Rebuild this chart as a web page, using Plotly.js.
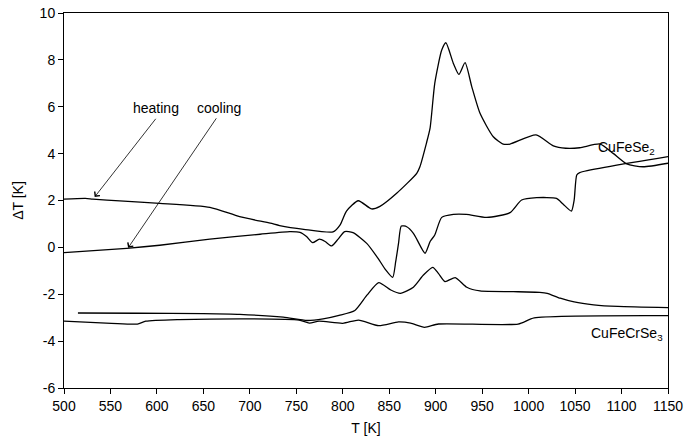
<!DOCTYPE html>
<html>
<head>
<meta charset="utf-8">
<script src="https://cdn.plot.ly/plotly-3.0.1.min.js"></script>
<style>html,body{margin:0;padding:0;background:#fff;}#chart{width:685px;height:448px;}</style>
</head>
<body>
<div id="chart"></div>
<script>
// CuFeSe2 heating
const feHeatT = [500, 523, 531, 560, 603, 657, 689, 722, 732, 758, 789.5, 797, 804, 816.7, 831, 840, 858, 879.6, 883, 890, 894, 899, 906.5, 911, 919, 925, 931.6, 938.8, 947.7, 962, 972.6, 980, 1008, 1026.6, 1040, 1055, 1077, 1091, 1105.6, 1123, 1150];
const feHeatV = [2.06, 2.09, 2.06, 1.98, 1.88, 1.71, 1.31, 1.03, 0.93, 0.77, 0.66, 0.95, 1.55, 1.99, 1.64, 1.75, 2.31, 3.16, 3.44, 4.44, 5.1, 7.0, 8.42, 8.73, 7.85, 7.38, 7.88, 6.86, 5.72, 4.72, 4.41, 4.41, 4.80, 4.33, 4.23, 4.25, 4.41, 4.01, 3.56, 3.44, 3.59];
// CuFeSe2 cooling
const feCoolT = [500, 567.5, 603, 657, 711, 743, 754, 761, 767.6, 774.8, 781, 788, 795, 802, 811, 825.8, 838, 846, 853.7, 857, 860, 863, 868.8, 876, 880, 888.5, 894, 899, 906.5, 919, 933, 955, 980, 992.5, 1008.7, 1030, 1037, 1046, 1049, 1051.8, 1055, 1150];
const feCoolV = [-0.22, -0.04, 0.09, 0.35, 0.56, 0.67, 0.64, 0.46, 0.20, 0.35, 0.25, 0.06, 0.35, 0.67, 0.63, 0.17, -0.47, -0.95, -1.28, -0.6, 0.17, 0.91, 0.88, 0.60, 0.32, -0.25, 0.25, 0.53, 1.28, 1.41, 1.41, 1.28, 1.48, 2.02, 2.12, 2.09, 1.85, 1.55, 2.02, 3.09, 3.19, 3.87];
// CuFeCrSe3 heating
const crHeatT = [515, 580, 650, 689, 736, 761.6, 778.8, 796, 813, 826, 838.7, 851.7, 862, 876, 886.8, 896.8, 902.9, 910, 921, 933.5, 947.7, 983.6, 1012, 1020, 1034, 1049, 1070, 1096, 1150];
const crHeatV = [-2.80, -2.81, -2.83, -2.86, -2.98, -3.12, -3.05, -2.90, -2.69, -2.04, -1.50, -1.82, -1.96, -1.70, -1.18, -0.85, -1.11, -1.46, -1.29, -1.70, -1.86, -1.89, -1.92, -1.96, -2.17, -2.33, -2.45, -2.52, -2.57];
// CuFeCrSe3 cooling
const crCoolT = [500, 551, 579, 588, 624, 689, 753, 764, 774.5, 800, 817, 838.7, 860, 873, 888, 903, 988.7, 1006, 1150];
const crCoolV = [-3.15, -3.24, -3.27, -3.15, -3.08, -3.05, -3.10, -3.23, -3.15, -3.24, -3.10, -3.34, -3.18, -3.23, -3.41, -3.27, -3.27, -3.01, -2.91];

const xTicks = [500, 550, 600, 650, 700, 750, 800, 850, 900, 950, 1000, 1050, 1100, 1150];
const yTicks = [-6, -4, -2, 0, 2, 4, 6, 8, 10];

const lineStyle = {color: '#000', width: 1.3, shape: 'spline', smoothing: 0.6};
const mk = (x, y) => ({x: x, y: y, type: 'scatter', mode: 'lines', line: lineStyle, hoverinfo: 'skip', showlegend: false});

const data = [mk(feHeatT, feHeatV), mk(feCoolT, feCoolV), mk(crHeatT, crHeatV), mk(crCoolT, crCoolV)];

const font = {family: 'Liberation Sans, Arial, sans-serif', size: 14, color: '#000'};
const tickFont = {family: 'Liberation Sans, Arial, sans-serif', size: 14, color: '#000'};
const arrowCommon = {xref: 'x', yref: 'y', axref: 'x', ayref: 'y', text: '', showarrow: true, arrowhead: 4, arrowsize: 1.6, arrowwidth: 0.8, arrowcolor: '#000'};

const layout = {
  width: 685, height: 448,
  margin: {l: 64, r: 17, t: 13, b: 60},
  paper_bgcolor: '#fff', plot_bgcolor: '#fff',
  font: font,
  xaxis: {
    range: [500, 1150], tickvals: xTicks, ticktext: xTicks.map(String),
    ticks: 'outside', ticklen: 5, tickwidth: 1, tickcolor: '#000',
    showline: true, linecolor: '#000', linewidth: 1, mirror: true,
    showgrid: false, zeroline: false,
    title: {text: 'T [K]', font: tickFont, standoff: 10},
    tickfont: tickFont
  },
  yaxis: {
    range: [-6, 10], tickvals: yTicks, ticktext: yTicks.map(String),
    ticks: 'outside', ticklen: 5, tickwidth: 1, tickcolor: '#000',
    showline: true, linecolor: '#000', linewidth: 1, mirror: true,
    showgrid: false, zeroline: false,
    title: {text: 'ΔT [K]', font: font, standoff: 12},
    tickfont: tickFont
  },
  annotations: [
    {xref: 'x', yref: 'y', x: 599, y: 5.95, text: 'heating', showarrow: false, font: font},
    {xref: 'x', yref: 'y', x: 667, y: 5.95, text: 'cooling', showarrow: false, font: font},
    Object.assign({x: 533, y: 2.15, ax: 600, ay: 5.55}, arrowCommon),
    Object.assign({x: 569, y: -0.02, ax: 665, ay: 5.57}, arrowCommon),
    {xref: 'x', yref: 'y', x: 1105, y: 4.24, text: 'CuFeSe<sub>2</sub>', showarrow: false, font: font},
    {xref: 'x', yref: 'y', x: 1106, y: -3.69, text: 'CuFeCrSe<sub>3</sub>', showarrow: false, font: font}
  ]
};

Plotly.newPlot('chart', data, layout, {displayModeBar: false, staticPlot: true});
</script>
</body>
</html>
